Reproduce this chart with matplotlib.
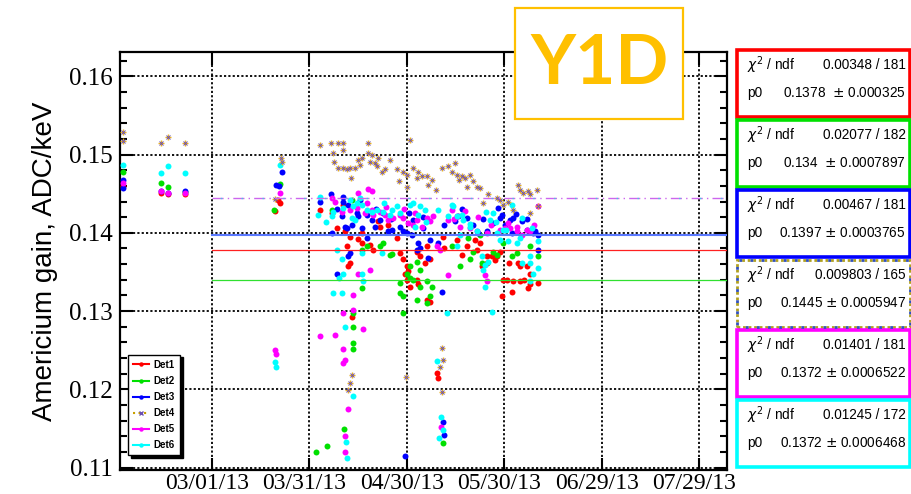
import matplotlib
matplotlib.use('Agg')
import matplotlib.pyplot as plt
from matplotlib.patches import Rectangle
from matplotlib.lines import Line2D
from matplotlib.transforms import ScaledTranslation

# x is day of year 2013, y is the americium peak gain in ADC/keV
tick_days = [59, 89, 119, 149, 179, 209]
tick_labels = ['03/01/13', '03/31/13', '04/30/13', '05/30/13', '06/29/13', '07/29/13']

det1_day = [31.5, 43.2, 45.6, 50.7, 79.2, 80.0, 78.4,
            92.3, 95.8, 99.2, 97.4, 100.0, 101.5, 100.5, 105.1, 107.6, 105.1, 110.7, 110.2,
            113.3, 115.8, 116.9, 117.9, 118.9, 118.4, 119.4, 122.0, 123.0, 118.9, 119.9,
            122.5, 124.6, 126.1, 125.1, 130.2, 134.3, 137.4, 140.0, 141.5, 143.5, 145.1,
            146.6, 147.6, 142.0, 143.5, 148.7, 149.7, 151.7, 153.8, 153.3, 153.8, 155.8,
            156.9, 159.4, 156.4, 151.2, 148.2, 101.5, 101.0, 102.0, 128.2, 128.7, 126.1,
            125.1, 122.0,
            130.5, 136.0, 140.5, 146.0, 150.5, 155.0, 157.0, 104.0, 108.5]
det1_gain = [0.1460, 0.1451, 0.1449, 0.1450, 0.1442, 0.1438, 0.1428,
             0.1429, 0.1425, 0.1435, 0.1406, 0.1402, 0.1395, 0.1383, 0.1400, 0.1385, 0.1387,
             0.1408, 0.1415, 0.1410, 0.1393, 0.1374, 0.1366, 0.1357, 0.1348, 0.1351, 0.1376,
             0.1370, 0.1340, 0.1331, 0.1334, 0.1361, 0.1366, 0.1383, 0.1395, 0.1391, 0.1383,
             0.1391, 0.1387, 0.1370, 0.1370, 0.1370, 0.1376, 0.1357, 0.1361, 0.1340, 0.1340,
             0.1338, 0.1338, 0.1361, 0.1357, 0.1357, 0.1348, 0.1336, 0.1329, 0.1324, 0.1319,
             0.1361, 0.1357, 0.1293, 0.1221, 0.1214, 0.1312, 0.1314, 0.1340,
             0.1380, 0.1372, 0.1378, 0.1365, 0.1362, 0.1340, 0.1335, 0.1392, 0.1378]

det2_day = [31.5, 43.2, 45.6, 50.7, 80.0, 78.1,
            95.8, 102.0, 105.1, 106.6, 110.7, 114.3, 116.9, 116.9, 117.9, 118.9, 119.9,
            121.0, 122.0, 123.0, 125.1, 125.1, 126.1, 122.0, 123.0, 119.9, 132.8, 135.3,
            138.4, 139.4, 142.0, 145.6, 146.6, 148.7, 151.2, 152.8, 156.9, 159.4, 102.5,
            102.5, 102.5, 102.5, 105.1, 117.9, 126.6, 137.9, 141.5, 111.7, 113.8,
            99.5, 130.0, 91.0, 94.5]
det2_gain = [0.1478, 0.1464, 0.1458, 0.1452, 0.1462, 0.1429,
             0.1429, 0.1442, 0.1378, 0.1383, 0.1383, 0.1373, 0.1336, 0.1323, 0.1319, 0.1348,
             0.1357, 0.1340, 0.1314, 0.1331, 0.1338, 0.1310, 0.1319, 0.1363, 0.1353, 0.1342,
             0.1383, 0.1357, 0.1366, 0.1376, 0.1361, 0.1376, 0.1372, 0.1387, 0.1370, 0.1374,
             0.1383, 0.1370, 0.1297, 0.1280, 0.1259, 0.1251, 0.1329, 0.1297, 0.1331, 0.1393,
             0.1397, 0.1387, 0.1372,
             0.1150, 0.1132, 0.1120, 0.1128]

det3_day = [31.5, 31.5, 43.2, 45.6, 50.7, 80.5, 78.6, 79.6,
            92.3, 95.6, 99.2, 99.4, 98.9, 99.9, 100.5, 102.0, 103.5, 104.0, 105.1, 106.6,
            108.2, 109.2, 110.7, 111.7, 113.3, 114.3, 116.9, 117.9, 118.9, 120.5, 121.0,
            122.5, 123.0, 122.0, 124.1, 125.6, 126.1, 128.7, 129.7, 133.8, 134.8, 137.4,
            139.4, 141.0, 143.5, 145.6, 147.6, 148.2, 149.2, 150.7, 151.2, 151.7, 154.3,
            155.8, 157.9, 159.4, 159.4, 101.5, 101.0, 97.4, 95.8, 106.6,
            130.0, 130.5, 118.5,
            97.5, 101.0, 104.5, 109.5, 114.0, 119.5, 124.0, 130.5, 136.0, 142.5, 147.0,
            152.5, 156.0, 158.5]
det3_gain = [0.1468, 0.1457, 0.1454, 0.1451, 0.1454, 0.1478, 0.1461, 0.1460,
             0.1440, 0.1449, 0.1446, 0.1440, 0.1421, 0.1408, 0.1406, 0.1410, 0.1425, 0.1421,
             0.1406, 0.1423, 0.1417, 0.1408, 0.1417, 0.1425, 0.1402, 0.1404, 0.1408, 0.1402,
             0.1400, 0.1397, 0.1417, 0.1387, 0.1380, 0.1378, 0.1406, 0.1368, 0.1391, 0.1387,
             0.1324, 0.1415, 0.1421, 0.1419, 0.1410, 0.1400, 0.1402, 0.1412, 0.1419, 0.1423,
             0.1410, 0.1417, 0.1400, 0.1419, 0.1415, 0.1404, 0.1400, 0.1397, 0.1378, 0.1374,
             0.1370, 0.1348, 0.1400, 0.1393,
             0.1158, 0.1142, 0.1115,
             0.1430, 0.1436, 0.1442, 0.1430, 0.1418, 0.1425, 0.1420, 0.1410, 0.1430, 0.1418,
             0.1432, 0.1424, 0.1418, 0.1402]

det4_day = [31.5, 31.5, 43.2, 45.6, 50.7, 80.3, 80.5, 78.4,
            92.3, 95.6, 97.9, 99.4, 99.2, 96.4, 96.7, 107.1, 97.9, 99.2, 100.5, 101.5,
            101.7, 103.0, 104.0, 104.6, 105.1, 107.1, 108.1, 107.6, 109.2, 110.2, 109.7,
            111.2, 112.3, 113.8, 116.0, 116.7, 117.9, 118.9, 119.9, 119.1, 121.0, 122.5,
            122.0, 123.5, 125.1, 125.6, 126.6, 128.1, 129.7, 131.7, 132.8, 133.8, 134.3,
            135.1, 135.8, 136.9, 137.4, 138.4, 139.4, 140.5, 141.5, 142.3, 144.0, 146.6,
            147.6, 148.7, 150.2, 151.7, 153.3, 153.8, 154.8, 156.4, 156.9, 158.9, 156.9,
            159.4, 129.7, 130.2, 129.2, 129.7, 102.0, 101.5, 101.0, 118.7]
det4_gain = [0.1529, 0.1517, 0.1515, 0.1522, 0.1515, 0.1495, 0.1491, 0.1443,
             0.1512, 0.1515, 0.1515, 0.1515, 0.1506, 0.1502, 0.1491, 0.1515, 0.1483, 0.1483,
             0.1481, 0.1483, 0.1470, 0.1483, 0.1493, 0.1487, 0.1495, 0.1502, 0.1500, 0.1491,
             0.1489, 0.1495, 0.1485, 0.1478, 0.1481, 0.1493, 0.1481, 0.1466, 0.1478, 0.1459,
             0.1519, 0.1474, 0.1483, 0.1478, 0.1470, 0.1472, 0.1472, 0.1461, 0.1468, 0.1455,
             0.1483, 0.1485, 0.1478, 0.1489, 0.1474, 0.1468, 0.1472, 0.1470, 0.1459, 0.1474,
             0.1466, 0.1459, 0.1457, 0.1438, 0.1449, 0.1444, 0.1442, 0.1436, 0.1440, 0.1429,
             0.1461, 0.1455, 0.1451, 0.1453, 0.1449, 0.1455, 0.1425, 0.1434, 0.1253, 0.1238,
             0.1229, 0.1197, 0.1219, 0.1208, 0.1199, 0.1216]

det5_day = [31.5, 43.2, 45.6, 50.7, 80.0, 78.4, 78.6,
            95.8, 98.9, 101.5, 104.0, 107.1, 108.2, 106.6, 108.2, 108.7, 110.7, 112.3,
            113.3, 114.8, 116.9, 117.9, 119.4, 121.0, 122.0, 123.5, 125.1, 126.1, 128.2,
            129.2, 131.7, 132.8, 134.3, 135.3, 138.4, 140.5, 143.0, 143.5, 147.6, 149.2,
            150.7, 152.8, 154.3, 155.8, 156.9, 159.4, 104.0, 107.6, 105.6, 102.5, 99.4,
            92.3, 96.9, 99.4, 99.4, 99.9, 102.5, 131.7, 143.5,
            99.8, 100.0, 129.5, 101.0,
            97.0, 103.5, 106.0, 112.5, 118.0, 121.5, 127.0, 133.5, 137.0, 141.0, 145.0,
            150.0, 153.0, 158.0]
det5_gain = [0.1464, 0.1453, 0.1451, 0.1451, 0.1451, 0.1250, 0.1245,
             0.1444, 0.1427, 0.1429, 0.1451, 0.1456, 0.1453, 0.1438, 0.1429, 0.1423, 0.1427,
             0.1423, 0.1417, 0.1419, 0.1423, 0.1419, 0.1412, 0.1410, 0.1417, 0.1408, 0.1419,
             0.1415, 0.1383, 0.1378, 0.1417, 0.1429, 0.1421, 0.1408, 0.1406, 0.1402, 0.1346,
             0.1338, 0.1404, 0.1406, 0.1406, 0.1402, 0.1397, 0.1404, 0.1402, 0.1434, 0.1348,
             0.1353, 0.1277, 0.1321, 0.1297, 0.1268, 0.1270, 0.1251, 0.1234, 0.1238, 0.1302,
             0.1346, 0.1400,
             0.1140, 0.1120, 0.1152, 0.1175,
             0.1440, 0.1432, 0.1425, 0.1433, 0.1430, 0.1425, 0.1422, 0.1418, 0.1428, 0.1420,
             0.1410, 0.1412, 0.1408, 0.1410]

det6_day = [31.5, 43.2, 45.6, 50.7, 80.0, 78.4, 78.6,
            92.3, 95.8, 96.4, 98.9, 97.4, 98.9, 99.4, 98.2, 99.9, 101.5, 102.5, 103.5,
            104.6, 103.0, 106.6, 109.7, 111.7, 113.8, 111.2, 115.8, 116.9, 121.0, 123.0,
            124.6, 121.5, 131.7, 133.3, 134.3, 136.4, 138.4, 140.5, 135.3, 134.3, 142.0,
            143.0, 142.5, 143.0, 144.0, 144.6, 145.6, 146.6, 147.6, 148.7, 150.2, 152.8,
            153.8, 154.3, 156.9, 156.9, 156.9, 157.9, 159.4, 159.4, 131.2, 145.1, 105.1,
            105.6, 102.5, 128.2, 105.1,
            129.5, 130.0, 129.0, 100.2, 100.5,
            91.6, 94.1, 96.2, 99.3, 102.1, 105.2, 108.2, 111.9, 114.4, 119.9, 122.4, 124.8,
            128.5, 132.8, 135.9, 138.4, 143.3, 146.4, 149.5, 151.3, 154.4, 157.5]
det6_gain = [0.1487, 0.1477, 0.1486, 0.1477, 0.1487, 0.1235, 0.1228,
             0.1446, 0.1421, 0.1323, 0.1323, 0.1378, 0.1366, 0.1348, 0.1342, 0.1280, 0.1442,
             0.1434, 0.1438, 0.1444, 0.1417, 0.1429, 0.1429, 0.1427, 0.1423, 0.1374, 0.1434,
             0.1425, 0.1438, 0.1434, 0.1429, 0.1408, 0.1421, 0.1434, 0.1421, 0.1417, 0.1408,
             0.1402, 0.1397, 0.1383, 0.1370, 0.1359, 0.1353, 0.1331, 0.1363, 0.1417, 0.1425,
             0.1400, 0.1391, 0.1404, 0.1389, 0.1387, 0.1393, 0.1361, 0.1370, 0.1361, 0.1338,
             0.1348, 0.1355, 0.1389, 0.1297, 0.1299, 0.1348, 0.1338, 0.1191, 0.1236, 0.1374,
             0.1165, 0.1148, 0.1138, 0.1133, 0.1112,
             0.1423, 0.1414, 0.1427, 0.1432, 0.1419, 0.1436, 0.1427, 0.1438, 0.1429, 0.1436,
             0.1423, 0.1414, 0.1429, 0.1436, 0.1423, 0.1411, 0.1427, 0.1414, 0.1404, 0.1436,
             0.1419, 0.1406]

# constant fits per detector
fit_p0 = [0.1378, 0.134, 0.1397, 0.1445, 0.1372, 0.1372]
fit_err = [0.000325, 0.0007897, 0.0003765, 0.0005947, 0.0006522, 0.0006468]
fit_chi2 = [0.00348, 0.02077, 0.00467, 0.009803, 0.01401, 0.01245]
fit_ndf = [181, 182, 181, 165, 181, 172]
fit_start = 59

det_names = ['Det1', 'Det2', 'Det3', 'Det4', 'Det5', 'Det6']
det_colors = ['#ff0000', '#00e000', '#0000ff', '#c8a000', '#ff00ff', '#00ffff']

W, H = 912, 494


def fx(x):
    return x / W


def fy(y):
    return 1 - y / H


fig = plt.figure(figsize=(W / 100, H / 100), dpi=100)
ax = fig.add_axes([fx(120), fy(470), fx(727) - fx(120), fy(52) - fy(470)])

ax.set_xlim(30.7, 217.5)
ax.set_ylim(0.1097, 0.1631)

all_days = [det1_day, det2_day, det3_day, det4_day, det5_day, det6_day]
all_gain = [det1_gain, det2_gain, det3_gain, det4_gain, det5_gain, det6_gain]

for i in [0, 1, 2, 4, 5]:
    ax.plot(all_days[i], all_gain[i], 'o', ms=4.3, mew=0, color=det_colors[i],
            zorder=3)
# Det4 uses a speckled open marker
ax.plot(det4_day, det4_gain, '+', ms=4.2, mew=1.0, color='#e8b020', zorder=4)
ax.plot(det4_day, det4_gain, 'x', ms=3, mew=0.7, color='#6a50b0', zorder=4)

# fit lines
x_end = ax.get_xlim()[1]
ax.plot([fit_start, x_end], [fit_p0[0]] * 2, color='#ff2020', lw=0.9, zorder=5)
ax.plot([fit_start, x_end], [fit_p0[1]] * 2, color='#30e030', lw=0.9, zorder=5)
ax.plot([fit_start, x_end], [fit_p0[2]] * 2, color='#5a78ff', lw=1.5, zorder=5)
ax.plot([fit_start, x_end], [fit_p0[3]] * 2, color='#cc66ee', lw=1.0,
        ls=(0, (8, 3, 1, 3)), zorder=5)
ax.plot([fit_start, x_end], [fit_p0[3]] * 2, color='#40d0e0', lw=1.0,
        ls=(9, (1, 14)), zorder=5)

# axes styling
ax.set_xticks(tick_days)
ax.set_xticklabels(tick_labels, family='Liberation Serif', fontsize=17)
ax.set_yticks([0.11, 0.12, 0.13, 0.14, 0.15, 0.16])
ax.set_yticklabels(['0.11', '0.12', '0.13', '0.14', '0.15', '0.16'],
                   family='Liberation Serif', fontsize=18)
ax.set_yticks([0.11 + 0.002 * k for k in range(27)], minor=True)
ax.tick_params(axis='both', which='major', direction='in', length=9, width=1.5,
               top=True, right=True)
ax.tick_params(axis='y', which='minor', direction='in', length=5, width=1.5,
               left=True, right=True)
ax.tick_params(axis='x', which='major', pad=2)
ax.tick_params(axis='y', which='major', pad=5)
for lab in ax.get_xticklabels():
    lab.set_transform(lab.get_transform() + ScaledTranslation(-0.05, 0, fig.dpi_scale_trans))
for sp in ax.spines.values():
    sp.set_linewidth(1.6)
ax.grid(True, which='major', color='black', lw=1.3, ls=(0, (1.2, 1.2)), zorder=1)
ax.set_axisbelow(True)
ax.set_ylabel('Americium gain, ADC/keV', family='Liberation Sans', fontsize=20,
              labelpad=8)

# legend with solid black shadow
handles = []
for i in range(6):
    if i == 3:
        h = Line2D([], [], color='#c8a000', lw=1.5, ls=':', marker='x', ms=3,
                   mec='#6a50b0')
    else:
        h = Line2D([], [], color=det_colors[i], lw=1.5, marker='o', ms=3.2, mew=0)
    handles.append(h)
leg = ax.legend(handles, det_names, loc='lower left', bbox_to_anchor=(0.013, 0.035),
                borderaxespad=0, fancybox=False, edgecolor='black', framealpha=1,
                shadow={'color': 'black', 'alpha': 1},
                prop={'family': 'Liberation Sans', 'weight': 'bold', 'size': 7},
                handlelength=1.6, handletextpad=0.5, labelspacing=0.62, borderpad=0.55)
leg.get_frame().set_linewidth(1.0)
leg.set_zorder(10)

# Y1D tag
tag = Rectangle((fx(515), fy(119)), fx(683) - fx(515), fy(8) - fy(119),
                transform=fig.transFigure, facecolor='white', edgecolor='#ffc000',
                lw=1.6, zorder=20)
fig.patches.append(tag)
fig.text(fx(600), fy(64), 'Y1D', family='Lato', weight='bold', fontsize=50,
         color='#ffc000', ha='center', va='center', zorder=21)

# fit statistics boxes
for i in range(6):
    top = 50 + 70 * i
    rect = Rectangle((fx(737), fy(top + 67)), fx(910) - fx(737), fy(top) - fy(top + 67),
                     transform=fig.transFigure, facecolor='white', zorder=20,
                     edgecolor=det_colors[i] if i != 3 else '#b0a020',
                     lw=2.6 if i != 3 else 2.0, ls='-' if i != 3 else (0, (1, 1)))
    fig.patches.append(rect)
    if i == 3:
        fig.patches.append(Rectangle((fx(737), fy(top + 67)), fx(910) - fx(737),
                                     fy(top) - fy(top + 67), transform=fig.transFigure,
                                     facecolor='none', edgecolor='#3050c0', lw=2.0,
                                     ls=(1, (1, 3)), zorder=21))
    tprops = dict(family='Liberation Sans', fontsize=9.8, va='center', zorder=22)
    gap = '  ' if i < 2 else ' '
    fig.text(fx(747), fy(top + 15), r'$\chi^{2}$ / ndf', ha='left', **tprops)
    fig.text(fx(906), fy(top + 15), f'{fit_chi2[i]} / {fit_ndf[i]}', ha='right', **tprops)
    fig.text(fx(747), fy(top + 43), 'p0', ha='left', **tprops)
    fig.text(fx(906), fy(top + 43), f'{fit_p0[i]}{gap}$\\pm$ {fit_err[i]}', ha='right',
             **tprops)

fig.savefig('out.png', dpi=100)
